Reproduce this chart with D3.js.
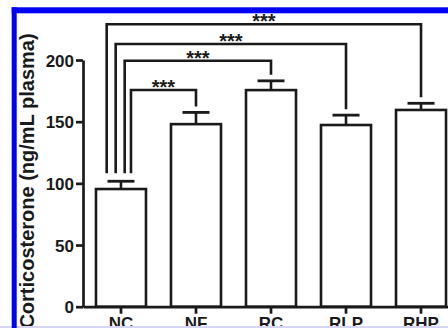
<!DOCTYPE html>
<html>
<head>
<meta charset="utf-8">
<script src="https://cdn.jsdelivr.net/npm/d3@7"></script>
<style>
  html, body { margin: 0; padding: 0; background: #fff; }
  svg { display: block; }
  text { font-family: "Liberation Sans", Arial, sans-serif; font-weight: bold; fill: #1a1a1a; }
</style>
</head>
<body>
<svg id="chart" width="448" height="328"></svg>
<script>
// ---- data ----
const categories = ["NC", "NF", "RC", "RLP", "RHP"];
const means = [95.4, 148, 175.6, 147.3, 159.5];
const sems = [6.3, 9.5, 7.5, 8, 5.4];
const yTicks = [0, 50, 100, 150, 200];
const yLabel = "Corticosterone (ng/mL plasma)";
// significance brackets: NC vs each group, bracket level in data units
const sigTargets = ["NF", "RC", "RLP", "RHP"];
const sigLevels = [175.7, 199.4, 213, 229];
const sigLabels = ["***", "***", "***", "***"];

// ---- layout ----
const svg = d3.select("#chart");
const ink = "#1a1a1a";
const x = d3.scaleBand().domain(categories).range([83, 459]).paddingInner(1/3).paddingOuter(0.173);
const y = d3.scaleLinear().domain([0, 200]).range([306.7, 60]);

const g = svg.append("g");

// bars
g.selectAll("rect.bar").data(categories).join("rect")
  .attr("class", "bar")
  .attr("x", d => x(d))
  .attr("y", (d, i) => y(means[i]))
  .attr("width", x.bandwidth())
  .attr("height", (d, i) => y(0) - y(means[i]))
  .attr("fill", "#fff").attr("stroke", ink).attr("stroke-width", 2.6);

// error bars
const cx = d => x(d) + x.bandwidth() / 2;
g.selectAll("line.err").data(categories).join("line")
  .attr("x1", cx).attr("x2", cx)
  .attr("y1", (d, i) => y(means[i])).attr("y2", (d, i) => y(means[i] + sems[i]))
  .attr("stroke", ink).attr("stroke-width", 2.6);
g.selectAll("line.cap").data(categories).join("line")
  .attr("x1", d => cx(d) - 13.5).attr("x2", d => cx(d) + 13.5)
  .attr("y1", (d, i) => y(means[i] + sems[i])).attr("y2", (d, i) => y(means[i] + sems[i]))
  .attr("stroke", ink).attr("stroke-width", 2.8);

// axes
const yAxis = d3.axisLeft(y).tickValues(yTicks).tickSize(7).tickSizeOuter(0).tickPadding(2);
const ya = svg.append("g").attr("transform", "translate(83,0)").call(yAxis);
ya.selectAll("path,line").attr("stroke", ink).attr("stroke-width", 2.7);
ya.selectAll("text").attr("font-size", 17).attr("fill", ink).attr("dy", "0.36em");

const xAxis = d3.axisBottom(x).tickSize(7).tickSizeOuter(0).tickPadding(3);
const xa = svg.append("g").attr("transform", `translate(0,${y(0)})`).call(xAxis);
xa.selectAll("path,line").attr("stroke", ink).attr("stroke-width", 2.7);
xa.selectAll("text").attr("font-size", 17).attr("fill", ink);

// significance brackets
const leftOffsets = [10, 3.7, -5.3, -14.3];
const ncIdx = 0;
const ncTop = y(means[ncIdx] + sems[ncIdx]) - 8;
sigTargets.forEach((t, k) => {
  const ti = categories.indexOf(t);
  const lx = cx(categories[ncIdx]) + leftOffsets[k];
  const rx = cx(t);
  const ly = y(sigLevels[k]);
  const rBottom = y(means[ti] + sems[ti]) - 6;
  svg.append("path")
    .attr("d", `M${lx},${ncTop}V${ly}H${rx}V${rBottom}`)
    .attr("fill", "none").attr("stroke", ink).attr("stroke-width", 2.6);
  svg.append("text")
    .attr("x", (lx + rx) / 2).attr("y", ly + 4)
    .attr("text-anchor", "middle").attr("font-size", 20)
    .text(sigLabels[k]);
});

// y label
svg.append("text")
  .attr("transform", "translate(33.5,181) rotate(-90)")
  .attr("text-anchor", "middle").attr("font-size", 20)
  .text(yLabel);

// frame
svg.append("rect").attr("x", 0).attr("y", 326).attr("width", 448).attr("height", 2).attr("fill", "#d6d6f4");
svg.append("rect").attr("x", 11.7).attr("y", 7.3).attr("width", 440).attr("height", 6).attr("fill", "#0000f4");
svg.append("rect").attr("x", 11.7).attr("y", 7.3).attr("width", 5).attr("height", 330).attr("fill", "#0000f4");
</script>
</body>
</html>
